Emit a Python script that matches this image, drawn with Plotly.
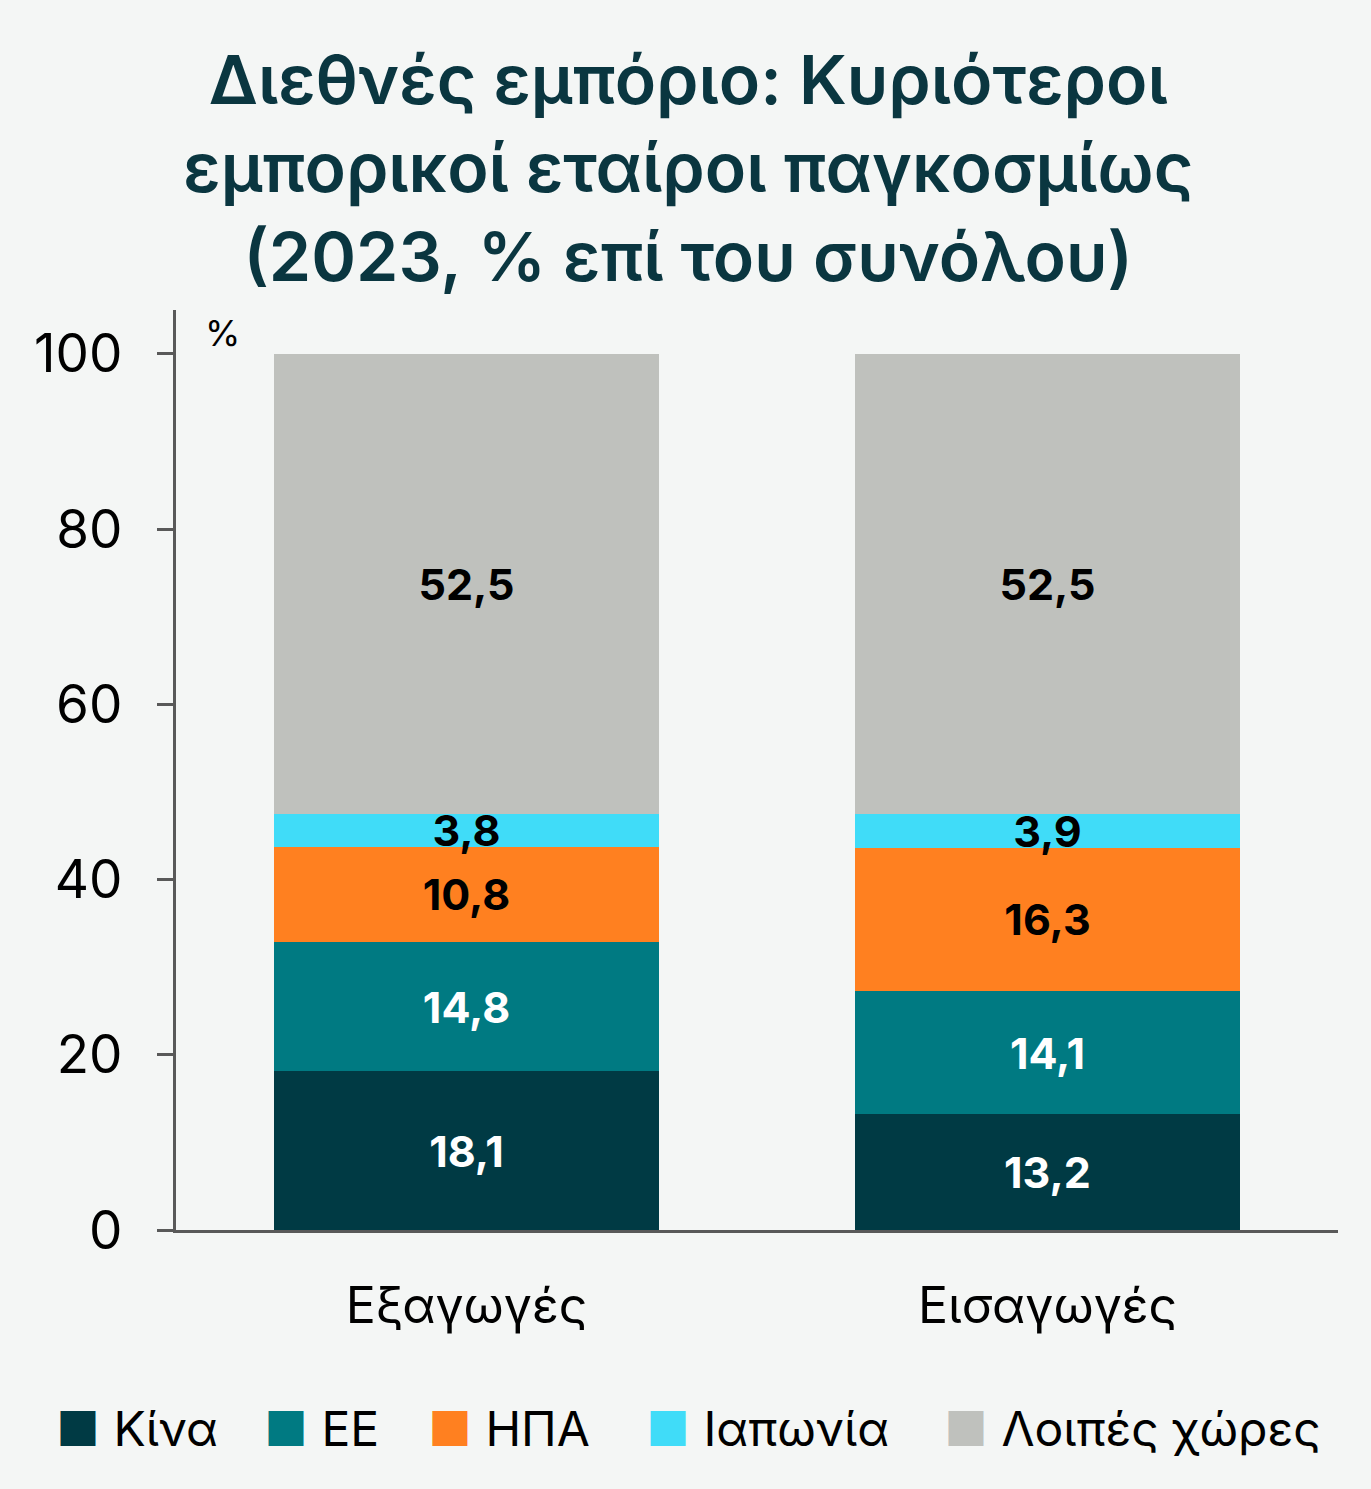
import plotly.graph_objects as go

categories = ["Εξαγωγές", "Εισαγωγές"]
series_names = ["Κίνα", "ΕΕ", "ΗΠΑ", "Ιαπωνία", "Λοιπές χώρες"]
china = [18.1, 13.2]
eu = [14.8, 14.1]
usa = [10.8, 16.3]
japan = [3.8, 3.9]
others = [52.5, 52.5]
y_ticks = [0, 20, 40, 60, 80, 100]

colors = ["#003A44", "#007A82", "#FF8020", "#40DCF8", "#BFC1BD"]
text_colors = ["white", "white", "black", "black", "black"]
legend_left = [60, 268, 432, 650, 948]  # px where each legend square starts
FONT = "Inter"

fig = go.Figure()
legend_ids = ["legend", "legend2", "legend3", "legend4", "legend5"]
for name, vals, col, tcol, lid in zip(series_names, [china, eu, usa, japan, others],
                                      colors, text_colors, legend_ids):
    fig.add_trace(go.Bar(
        x=categories, y=vals, name=name, marker_color=col, marker_line_width=0,
        texttemplate="%{y:.1f}", textposition="inside", insidetextanchor="middle",
        textangle=0, textfont=dict(family=FONT, size=43, color=tcol, weight="bold"),
        legendgroup=name, showlegend=False,
    ))
    # legend entry: big coloured square drawn as text, the real symbol is hidden
    fig.add_trace(go.Scatter(
        x=[None], y=[None], mode="markers", legendgroup=name, legend=lid,
        name=f'<span style="color:{col}">■</span> {name}',
        marker=dict(symbol="square", size=10, color="rgba(0,0,0,0)"),
    ))

legends = {}
for lid, left in zip(legend_ids, legend_left):
    legends[lid] = dict(
        orientation="h", xref="container", yref="container",
        x=(left - 44) / 1371, xanchor="left", y=1 - 1428 / 1489, yanchor="middle",
        font=dict(family=FONT, size=48, color="black"),
        itemwidth=30, bgcolor="rgba(0,0,0,0)",
    )

fig.update_layout(
    width=1371, height=1489,
    barmode="stack", bargap=0.337,
    separators=",.",
    paper_bgcolor="#F4F6F5", plot_bgcolor="#F4F6F5",
    margin=dict(l=176, r=33, t=310, b=259, autoexpand=False),
    title=dict(
        text="Διεθνές εμπόριο: Κυριότεροι<br>εμπορικοί εταίροι παγκοσμίως<br>(2023, % επί του συνόλου)",
        x=0.502, xref="container", xanchor="center",
        y=1 - 104 / 1489, yref="container", yanchor="middle",
        font=dict(family=FONT, size=68, color="#0A3640", weight=600),
    ),
    uniformtext=dict(minsize=43, mode="show"),
    xaxis=dict(
        showline=True, linecolor="#595959", linewidth=3, ticks="",
        tickfont=dict(family=FONT, size=50, color="black"),
        ticklabelstandoff=30, showgrid=False,
    ),
    yaxis=dict(
        range=[0, 105], tickvals=y_ticks, showgrid=False, zeroline=False,
        showline=True, linecolor="#595959", linewidth=3,
        ticks="outside", ticklen=16, tickwidth=3, tickcolor="#595959",
        tickfont=dict(family=FONT, size=53, color="black"),
        ticklabelstandoff=24,
    ),
    annotations=[dict(
        text="%", xref="paper", yref="paper", x=0.04, y=0.975,
        xanchor="center", yanchor="middle",
        showarrow=False, font=dict(family=FONT, size=36, color="black"),
    )],
    **legends,
)

fig.write_html("out.html", config={"displayModeBar": False},
               post_script="document.body.style.margin='0';")
